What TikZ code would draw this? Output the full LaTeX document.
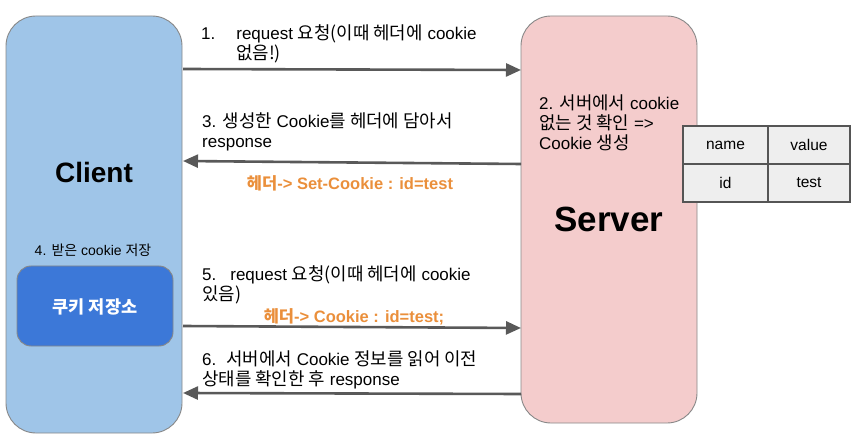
\documentclass[tikz,border=0pt]{standalone}
\usepackage{fontspec}
\setmainfont{Liberation Sans}
\newfontfamily\krfont{Noto Sans CJK KR}[Scale=1.05]
\usetikzlibrary{arrows.meta}
\newcommand\K[1]{{\krfont #1}}
\definecolor{clientfill}{HTML}{9FC5E8}
\definecolor{serverfill}{HTML}{F4CCCC}
\definecolor{storefill}{HTML}{3C78D8}
\definecolor{boxline}{HTML}{888888}
\definecolor{arrowcol}{HTML}{595959}
\definecolor{orangetxt}{HTML}{EA8F3B}
\definecolor{cellfill}{HTML}{EEEEEE}
\definecolor{cellline}{HTML}{555555}
\tikzset{
  bigbox/.style={draw=boxline, line width=0.9pt, rounded corners=30pt},
  lbl/.style={inner sep=0pt, anchor=base west, align=left, font=\fontsize{17}{20}\selectfont},
  olbl/.style={inner sep=0pt, anchor=base, text=orangetxt, font=\fontsize{16.5}{20}\selectfont\bfseries},
  flow/.style={draw=arrowcol, line width=2.6pt, -{Triangle[length=15pt,width=13pt]}},
  cell/.style={draw=cellline, fill=cellfill, line width=1.1pt, minimum height=38pt, inner sep=0pt, font=\fontsize{15.5}{18}\selectfont},
}
\begin{document}
\begin{tikzpicture}[x=1pt,y=-1pt]
\useasboundingbox (0,0) rectangle (859,446);
% main boxes
\draw[bigbox, fill=clientfill] (6,16) rectangle (182,433);
\draw[bigbox, fill=serverfill] (521,16) rectangle (697,423);
\node[inner sep=0pt, anchor=base, font=\fontsize{28}{30}\selectfont\bfseries] (clientlbl) at (94,183) {Client};
\node[inner sep=0pt, anchor=base, font=\fontsize{35}{38}\selectfont\bfseries] (serverlbl) at (609,232) {Server};
% storage
\node[inner sep=0pt, anchor=base, font=\fontsize{14}{16}\selectfont] (step4) at (93,256) {4. {\fontsize{13.3}{16}\krfont 받은} cookie {\fontsize{13.3}{16}\krfont 저장}};
\node[draw=boxline, line width=0.9pt, fill=storefill, rounded corners=14pt, minimum width=156pt, minimum height=80pt, inner sep=0pt] (store) at (95,306) {};
\node[inner sep=0pt, anchor=base, text=white, font=\fontsize{16.7}{20}\selectfont\bfseries] (storelbl) at (95,313) {\K{쿠키 저장소}};
% table
\node[cell, minimum width=85pt] (t11) at (725.5,145) {name};
\node[cell, minimum width=82pt] (t12) at (809,145) {value};
\node[cell, minimum width=85pt] (t21) at (725.5,183) {id};
\node[cell, minimum width=82pt] (t22) at (809,183) {test};
% server text (anchor = baseline of last line)
\node[lbl] (step2) at (539,150) {2. \K{서버에서} cookie\\\K{없는 것 확인} =>\\Cookie \K{생성}};
% arrow end points
\coordinate (a1s) at (183,69);  \coordinate (a1e) at (521,70);
\coordinate (a3s) at (521,164); \coordinate (a3e) at (183,161);
\coordinate (a5s) at (183,326); \coordinate (a5e) at (521,328);
\coordinate (a6s) at (521,394); \coordinate (a6e) at (183,393);
\draw[flow] (a1s) -- (a1e);
\draw[flow] (a3s) -- (a3e);
\draw[flow] (a5s) -- (a5e);
\draw[flow] (a6s) -- (a6e);
% labels (anchor = baseline of last line)
\node[lbl] (step1) at (201,60) {1.\hspace{21pt}request \K{요청(이때 헤더에} cookie\\\hspace*{35pt}\K{없음!)}};
\node[lbl] (step3) at (202,148) {3. \K{생성한} Cookie\K{를 헤더에 담아서}\\response};
\node[olbl] (hdr1) at (350,190) {{\fontsize{15.7}{20}\krfont 헤더}-> Set-Cookie : id=test};
\node[lbl] (step5) at (202,300) {5.\hspace{14pt}request \K{요청(이때 헤더에} cookie\\\K{있음)}};
\node[olbl] (hdr2) at (354,322) {{\fontsize{15.7}{20}\krfont 헤더}-> Cookie : id=test;};
\node[lbl] (step6) at (202,385) {6.\hspace{10pt}\K{서버에서} Cookie \K{정보를 읽어 이전}\\\K{상태를 확인한 후} response};
\end{tikzpicture}
\end{document}
